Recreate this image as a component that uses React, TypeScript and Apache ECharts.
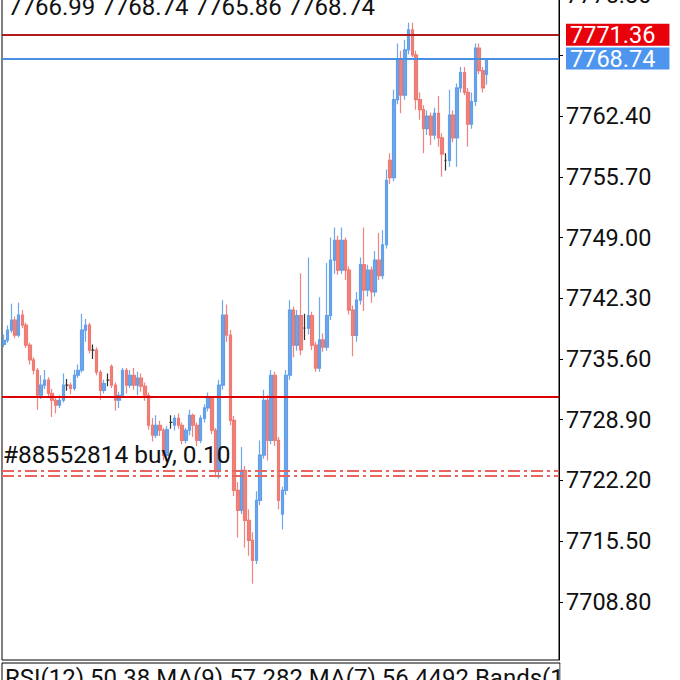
import React, { useEffect, useRef } from "react";
import * as echarts from "echarts";

const openPrices = [
  7737.2, 7737.67, 7738.78, 7739.88, 7738.23, 7740.43, 7739.33, 7737.12, 7735.5, 7734.36,
  7731.6, 7732.71, 7733.26, 7731.82, 7731.05, 7730.5, 7731.05, 7732.71, 7732.71, 7732.37,
  7733.81, 7734.36, 7738.78, 7739.33, 7736.57, 7736.57, 7734.14, 7732.15, 7733.26, 7734.8,
  7732.71, 7731.05, 7731.6, 7734.36, 7732.71, 7733.81, 7732.71, 7733.48, 7732.6, 7731.6,
  7728.29, 7727.19, 7728.29, 7727.74, 7724.98, 7728.6, 7728.29, 7729.06, 7728.29, 7726.63,
  7727.74, 7729.39, 7728.29, 7726.63, 7729.06, 7730.2, 7731.27, 7727.74, 7723.32, 7732.71,
  7740.43, 7738.23, 7728.84, 7721.11, 7718.91, 7723.32, 7717.8, 7715.59, 7713.39, 7720.0,
  7725.0, 7731.05, 7726.63, 7733.81, 7726.63, 7718.5, 7721.11, 7733.81, 7741.0, 7737.12,
  7740.4, 7739.0, 7739.0, 7740.4, 7737.12, 7734.6, 7737.7, 7736.9, 7740.4, 7746.5,
  7748.7, 7745.4, 7748.7, 7745.4, 7741.0, 7738.2, 7742.1, 7746.0, 7743.2, 7745.4,
  7743.0, 7746.5, 7744.8, 7748.2, 7757.5, 7755.6, 7764.2, 7768.6, 7764.7, 7769.7,
  7771.9, 7769.14, 7764.2, 7763.1, 7761.0, 7762.4, 7760.3, 7762.7, 7760.0, 7757.5,
  7757.5, 7762.5, 7760.0, 7765.5, 7767.2, 7765.0, 7761.5, 7764.0, 7769.9, 7767.4,
  7766.99,
];

const closePrices = [
  7737.67, 7738.78, 7739.88, 7738.23, 7740.43, 7739.33, 7737.12, 7735.5, 7734.36, 7731.6,
  7732.71, 7733.26, 7731.82, 7731.05, 7730.5, 7731.05, 7732.71, 7732.71, 7732.37, 7733.81,
  7734.36, 7738.78, 7739.33, 7736.57, 7736.57, 7734.14, 7732.15, 7732.9, 7733.26, 7732.71,
  7731.05, 7731.6, 7734.36, 7732.71, 7733.81, 7732.71, 7733.48, 7732.6, 7731.6, 7728.29,
  7727.19, 7728.29, 7727.74, 7724.98, 7727.8, 7728.6, 7729.06, 7728.29, 7726.63, 7727.74,
  7729.39, 7728.29, 7726.63, 7729.06, 7730.2, 7731.27, 7727.74, 7723.32, 7732.71, 7740.43,
  7738.23, 7728.84, 7721.11, 7718.91, 7723.32, 7717.8, 7715.59, 7713.39, 7720.0, 7725.0,
  7731.05, 7726.63, 7733.81, 7726.63, 7720.0, 7721.11, 7733.81, 7741.0, 7737.12, 7740.4,
  7736.6, 7739.0, 7740.4, 7737.12, 7734.6, 7737.7, 7736.9, 7740.4, 7746.5, 7748.7,
  7745.4, 7748.7, 7745.4, 7741.0, 7738.2, 7742.1, 7746.0, 7743.2, 7745.4, 7743.0,
  7746.5, 7744.8, 7748.2, 7755.3, 7755.6, 7764.2, 7768.6, 7764.7, 7769.7, 7771.9,
  7769.14, 7764.2, 7763.1, 7761.0, 7762.4, 7760.3, 7762.7, 7760.0, 7758.2, 7757.5,
  7762.5, 7760.0, 7765.5, 7767.2, 7765.0, 7761.5, 7764.0, 7769.9, 7767.4, 7765.5,
  7768.74,
];

const lowPrices = [
  7736.9, 7737.4, 7738.5, 7737.9, 7738.0, 7739.0, 7736.8, 7735.0, 7733.9, 7730.0,
  7731.2, 7732.3, 7731.4, 7729.2, 7729.6, 7730.2, 7730.8, 7732.1, 7731.7, 7732.1,
  7733.5, 7734.1, 7737.5, 7736.2, 7735.6, 7733.8, 7731.1, 7731.8, 7732.6, 7732.4,
  7729.9, 7730.2, 7731.3, 7731.8, 7732.4, 7732.2, 7731.6, 7732.0, 7731.0, 7727.8,
  7726.5, 7726.9, 7727.1, 7724.4, 7724.6, 7727.9, 7727.7, 7727.9, 7726.2, 7726.3,
  7727.2, 7727.0, 7726.0, 7726.3, 7728.6, 7729.8, 7727.3, 7722.55, 7722.4, 7732.2,
  7737.5, 7728.3, 7720.5, 7715.9, 7718.5, 7714.8, 7713.9, 7710.8, 7713.0, 7719.5,
  7724.6, 7724.4, 7726.2, 7726.0, 7719.0, 7716.8, 7720.6, 7733.3, 7735.8, 7736.5,
  7736.0, 7737.7, 7738.3, 7736.6, 7734.2, 7734.2, 7736.4, 7736.5, 7739.9, 7745.0,
  7744.9, 7745.0, 7744.3, 7740.5, 7735.9, 7737.5, 7741.6, 7740.9, 7742.5, 7741.8,
  7742.5, 7744.3, 7744.4, 7747.8, 7754.9, 7755.2, 7763.7, 7762.7, 7764.2, 7769.2,
  7768.9, 7763.1, 7762.0, 7758.3, 7760.3, 7759.2, 7759.8, 7759.0, 7755.7, 7756.4,
  7756.8, 7759.5, 7756.8, 7765.0, 7764.7, 7759.0, 7761.0, 7763.5, 7767.0, 7765.0,
  7765.86,
];

const highPrices = [
  7738.3, 7739.3, 7741.7, 7740.3, 7741.8, 7741.0, 7739.6, 7737.4, 7735.8, 7734.6,
  7733.8, 7734.4, 7733.6, 7732.3, 7731.4, 7731.6, 7734.0, 7733.4, 7733.0, 7734.4,
  7735.0, 7740.6, 7740.0, 7739.6, 7737.2, 7736.9, 7734.4, 7733.3, 7734.0, 7735.0,
  7733.0, 7732.0, 7734.6, 7734.6, 7734.4, 7734.6, 7734.2, 7734.0, 7733.0, 7731.9,
  7729.1, 7729.4, 7728.8, 7728.0, 7728.2, 7729.4, 7729.4, 7729.6, 7728.6, 7728.0,
  7730.0, 7729.6, 7728.6, 7729.4, 7730.6, 7731.9, 7731.5, 7728.0, 7733.3, 7742.09,
  7741.6, 7738.8, 7729.3, 7722.0, 7725.9, 7723.8, 7719.0, 7716.5, 7721.0, 7726.6,
  7732.2, 7731.6, 7734.4, 7734.2, 7727.0, 7721.5, 7734.4, 7742.09, 7741.4, 7741.0,
  7745.07, 7740.6, 7746.8, 7740.8, 7737.5, 7742.4, 7738.4, 7746.2, 7749.0, 7750.1,
  7749.2, 7750.1, 7749.0, 7745.8, 7741.5, 7743.0, 7746.8, 7750.1, 7746.0, 7745.8,
  7747.5, 7749.5, 7749.8, 7756.5, 7758.3, 7765.3, 7770.4, 7769.6, 7770.8, 7772.7,
  7772.7, 7769.6, 7765.0, 7763.6, 7763.0, 7762.8, 7763.3, 7764.6, 7760.5, 7758.3,
  7765.3, 7763.0, 7766.0, 7767.8, 7767.8, 7765.5, 7765.0, 7770.4, 7770.4, 7767.8,
  7768.74,
];

const slotCount = 150;
const yTickValues = [7708.8, 7715.5, 7722.2, 7728.9, 7735.6, 7742.3, 7749.0, 7755.7, 7762.4, 7769.1, 7775.8];
const yLabelValues = [7708.8, 7715.5, 7722.2, 7728.9, 7735.6, 7742.3, 7749.0, 7755.7, 7762.4, 7775.8];
const yMin = 7702.4;
const yMax = 7776.3;

const askLevel = 7771.36;
const bidLevel = 7768.74;
const trendLevel = 7731.4;
const orderLevels = [7723.25, 7722.7];
const orderLabel = "#88552814 buy, 0.10";
const indicatorText = "RSI(12) 50.38 MA(9) 57.282 MA(7) 56.4492 Bands(12";

const UP = "#4f94e6";
const DOWN = "#ec6a62";
const FONT = "Roboto";

export default function App() {
  const ref = useRef<HTMLDivElement>(null);

  useEffect(() => {
    document.body.style.margin = "0";
    if (!ref.current) return;
    const chart = echarts.init(ref.current, undefined, { renderer: "svg" });

    const categories = Array.from({ length: slotCount }, (_, i) => String(i));
    const candles = openPrices.map((o, i) => [o, closePrices[i], lowPrices[i], highPrices[i]]);
    const last = openPrices.length - 1;
    const headerText = [openPrices[last], highPrices[last], lowPrices[last], closePrices[last]]
      .map((v) => v.toFixed(2))
      .join(" ");

    const tagLabel = (bg: string) => ({
      show: true,
      position: "end",
      distance: 7,
      backgroundColor: bg,
      color: "#fff",
      fontFamily: FONT,
      fontSize: 23.5,
      lineHeight: 22,
      padding: [0, 14, 0, 4],
      formatter: (p: any) => Number(p.value).toFixed(2),
    });

    chart.setOption({
      animation: false,
      backgroundColor: "#fff",
      grid: {
        left: 2,
        right: 121,
        top: -10,
        height: 670,
        show: true,
        borderColor: "#000",
        borderWidth: 1,
        backgroundColor: "transparent",
        outerBoundsMode: "none",
        containLabel: false,
      },
      xAxis: {
        type: "category",
        data: categories,
        boundaryGap: true,
        axisLine: { show: false },
        axisTick: { show: false },
        axisLabel: { show: false },
        splitLine: { show: false },
      },
      yAxis: {
        type: "value",
        position: "right",
        min: yMin,
        max: yMax,
        scale: true,
        axisLine: { show: true, lineStyle: { color: "#000", width: 1 } },
        axisTick: {
          show: true,
          length: 4,
          customValues: yTickValues,
          lineStyle: { color: "#000", width: 1 },
        },
        axisLabel: {
          show: true,
          customValues: yLabelValues,
          margin: 7,
          color: "#111",
          fontFamily: FONT,
          fontSize: 23.5,
          formatter: (v: number) => v.toFixed(2),
        },
        splitLine: { show: false },
      },
      series: [
        {
          type: "candlestick",
          data: candles,
          barWidth: 3,
          itemStyle: {
            color: UP,
            color0: DOWN,
            borderColor: UP,
            borderColor0: DOWN,
            borderColorDoji: "#000",
            borderWidth: 1.2,
            opacity: 0.82,
          },
          markLine: {
            silent: true,
            symbol: ["none", "none"],
            animation: false,
            data: [
              {
                yAxis: trendLevel,
                lineStyle: { color: "#dd0000", width: 2, type: "solid" },
                label: { show: false },
              },
              {
                yAxis: orderLevels[0],
                lineStyle: { color: "#e8655f", width: 2, type: [12, 4, 3, 4] },
                label: {
                  show: true,
                  position: "insideStartTop",
                  distance: [1, 4],
                  color: "#111",
                  fontFamily: FONT,
                  fontSize: 24.5,
                  formatter: orderLabel,
                },
              },
              {
                yAxis: orderLevels[1],
                lineStyle: { color: "#e8655f", width: 2, type: [12, 4, 3, 4] },
                label: { show: false },
              },
              {
                yAxis: askLevel,
                lineStyle: { color: "#b01c1c", width: 2, type: "solid" },
                label: tagLabel("#e8000b"),
              },
              {
                yAxis: bidLevel,
                lineStyle: { color: "#4a90e2", width: 2, type: "solid" },
                label: tagLabel("#4d95ee"),
              },
            ],
          },
        },
      ],
      graphic: [
        {
          type: "text",
          left: 8,
          top: -5,
          z: 10,
          style: { text: headerText, fill: "#111", font: `24px ${FONT}` },
        },
        {
          type: "rect",
          z: 10,
          shape: { x: 2, y: 663, width: 558, height: 40 },
          style: { fill: "#fff", stroke: "#000", lineWidth: 1 },
        },
        {
          type: "text",
          z: 11,
          x: 5,
          y: 666,
          style: { text: indicatorText, fill: "#111", font: `24px ${FONT}` },
        },
        {
          type: "rect",
          z: 12,
          shape: { x: 560.5, y: 663.5, width: 130, height: 30 },
          style: { fill: "#fff" },
        },
      ],
    });

    return () => chart.dispose();
  }, []);

  return <div ref={ref} style={{ width: 680, height: 680, overflow: "hidden" }} />;
}
